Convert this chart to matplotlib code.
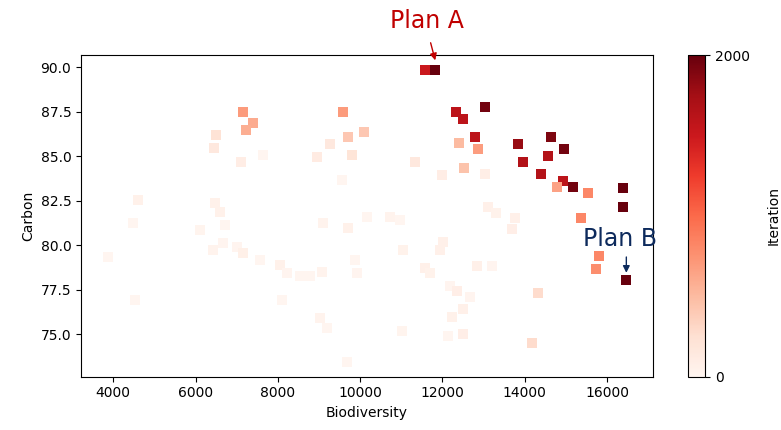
import matplotlib
matplotlib.use("Agg")
import matplotlib.pyplot as plt

# points: biodiversity, carbon, iteration
biodiversity = [11575, 11818, 12329, 12499, 13034, 12791, 12402, 12864, 11332, 11988,
                12523, 13034, 13836, 13958, 14639, 14955, 14566, 14396, 14930, 15173,
                14785, 15538, 16389, 16389, 15368, 15806, 15733, 16462,
                13107, 13302, 13763, 13690, 14322, 14176, 12840, 13204, 12184, 12354,
                12670, 12499, 12232, 12499, 12135, 11017, 11575, 11696, 10967, 11040,
                11939, 12012, 10722, 10163, 9871, 9920,
                7156, 7399, 7229, 6500, 6452, 7107, 7642, 9586, 10096, 9707,
                9269, 9804, 8953, 9561, 9100, 9707, 4601, 4480, 6471, 6593,
                6715, 6107, 3871, 4527, 6423, 6666, 7006, 7156, 7569, 8055,
                8225, 8541, 8784, 9075, 9026, 9196, 9682, 8099]
carbon = [89.85, 89.85, 87.49, 87.10, 87.77, 86.08, 85.75, 85.41, 84.68, 83.95,
          84.34, 84.01, 85.69, 84.68, 86.08, 85.41, 85.02, 84.01, 83.61, 83.28,
          83.28, 82.94, 83.22, 82.15, 81.53, 79.40, 78.67, 78.05,
          82.15, 81.81, 81.53, 80.91, 77.32, 74.51, 78.84, 78.84, 77.72, 77.44,
          77.10, 76.43, 75.98, 75.02, 74.91, 75.19, 78.73, 78.44, 81.42, 79.74,
          79.74, 80.19, 81.59, 81.59, 79.18, 78.44,
          87.49, 86.88, 86.48, 86.20, 85.47, 84.68, 85.07, 87.49, 86.36, 86.08,
          85.69, 85.07, 84.96, 83.67, 81.25, 80.97, 82.55, 81.25, 82.38, 81.87,
          81.14, 80.86, 79.35, 76.94, 79.74, 80.13, 79.91, 79.57, 79.18, 78.90,
          78.44, 78.27, 78.27, 78.50, 75.91, 75.36, 73.45, 76.94]
iteration = [1500, 2000, 1600, 1600, 1950, 1600, 500, 680, 150, 100,
             450, 90, 1800, 1650, 1900, 1950, 1650, 1650, 1600, 1950,
             650, 820, 2000, 2000, 820, 820, 780, 2000,
             60, 40, 60, 80, 280, 280, 60, 10, 10, 80,
             10, 60, 50, 80, 0, 20, 60, 40, 0, 40,
             60, 60, 30, 0, 0, 10,
             700, 600, 580, 220, 150, 100, 0, 700, 420, 420,
             150, 200, 120, 0, 30, 50, 50, 0, 50, 50,
             0, 20, 0, 0, 30, 10, 10, 70, 0, 50,
             10, 0, 0, 30, 30, 0, 0, 0]

fig = plt.figure(figsize=(7.81, 4.30), dpi=100)
ax = fig.add_axes([0.1037, 0.124, 0.7324, 0.748])
cax = fig.add_axes([0.881, 0.124, 0.0218, 0.748])

sc = ax.scatter(biodiversity, carbon, c=iteration, cmap='Reds', vmin=0, vmax=2000,
                marker='s', s=50, edgecolors='none')
ax.set_xlim(3215, 17118)
ax.set_ylim(72.62, 90.69)
ax.set_xlabel('Biodiversity', fontsize=10)
ax.set_ylabel('Carbon', fontsize=10)
ax.tick_params(labelsize=10)

# labels for the two chosen plans
ax.text(11623, 92.6, 'Plan A', color='#c00000', fontsize=17, ha='center', va='center', clip_on=False)
ax.annotate('', xy=(11842, 90.24), xytext=(11696, 91.53), annotation_clip=False,
            arrowprops=dict(arrowstyle='-|>', color='#c00000', lw=1, mutation_scale=10))
ax.text(16313, 80.35, 'Plan B', color='#0d2a5c', fontsize=17, ha='center', va='center')
ax.annotate('', xy=(16470, 78.3), xytext=(16470, 79.5),
            arrowprops=dict(arrowstyle='-|>', color='#0d2a5c', lw=1, mutation_scale=10))

cb = fig.colorbar(sc, cax=cax, ticks=[0, 2000])
cb.set_label('Iteration', fontsize=10, labelpad=12)
cb.ax.tick_params(labelsize=10)

fig.savefig('out.png', dpi=100)
